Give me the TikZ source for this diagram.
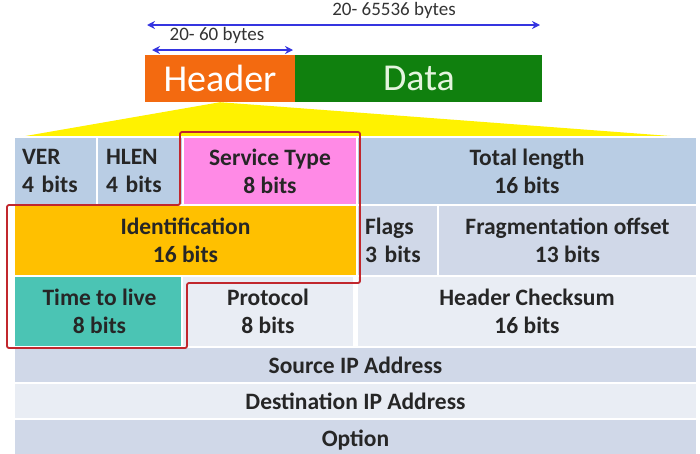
\documentclass[tikz,border=0pt]{standalone}
\usepackage{fontspec}
\setmainfont{Carlito}
\usepackage{xcolor}
\usepackage{tikz}
\usetikzlibrary{positioning,calc,arrows.meta}
\definecolor{hdrOrange}{HTML}{F36A10}
\definecolor{dataGreen}{HTML}{10800E}
\definecolor{dataText}{HTML}{E4F4DE}
\definecolor{lenBlue}{HTML}{3535E0}
\definecolor{rowTop}{HTML}{B9CDE4}
\definecolor{rowDark}{HTML}{D0D8E8}
\definecolor{rowLight}{HTML}{E9EDF4}
\definecolor{servPink}{HTML}{FF8AE6}
\definecolor{identGold}{HTML}{FFC000}
\definecolor{ttlTeal}{HTML}{4BC4B4}
\definecolor{markRed}{HTML}{C1272D}

\begin{document}
\begin{tikzpicture}[
  x=1pt, y=-1pt,
  font=\bfseries\fontsize{23.5}{28}\selectfont,
  cell/.style={draw=white, line width=2pt, inner sep=0pt, align=center, text=black!85},
  lcell/.style={cell, align=left, text width=#1},
  block/.style={inner sep=0pt, minimum height=47pt, font=\fontsize{38}{42}\selectfont},
  lenarrow/.style={{Stealth[length=8pt,width=8pt]}-{Stealth[length=8pt,width=8pt]}, line width=1.6pt, lenBlue},
  lenlabel/.style={font=\fontsize{19}{22}\selectfont, text=black!80},
]
\useasboundingbox (0,0) rectangle (700,453);

% Header / Data bar
\node[block, fill=hdrOrange, text=white, minimum width=150pt] (hdr) at (220,78.5) {Header};
\node[block, fill=dataGreen, text=dataText, minimum width=247pt, right=0pt of hdr] (data) {Data};

% length arrows
\coordinate (totL) at (147,25);
\coordinate (totR) at (540,25);
\coordinate (hdrL) at (152,50);
\coordinate (hdrR) at (293,50);
\draw[lenarrow] (totL) -- (totR);
\draw[lenarrow] (hdrL) -- (hdrR);
\node[lenlabel] (totlab) at (394,10) {20- 65536 bytes};
\node[lenlabel] (hdrlab) at (217,35) {20- 60 bytes};

% zoom wedge
\fill[yellow] (hdr.south) -- (14,138) -- (697,138) -- cycle;

% Row 1
\node[lcell={67pt}, fill=rowTop, minimum width=83pt, minimum height=68pt] (ver) at (55.5,171) {VER\\4 bits};
\node[lcell={68pt}, fill=rowTop, minimum width=86pt, minimum height=68pt] (hlen) at (140,171) {HLEN\\4 bits};
\node[cell, fill=servPink, minimum width=174pt, minimum height=68pt] (serv) at (270,171) {Service Type\\8 bits};
\node[cell, fill=rowTop, minimum width=340pt, minimum height=68pt] (total) at (527,171) {Total length\\16 bits};

% Row 2
\node[cell, fill=identGold, minimum width=343pt, minimum height=71pt] (ident) at (185.5,240.5) {Identification\\16 bits};
\node[lcell={65pt}, fill=rowDark, minimum width=81pt, minimum height=71pt] (flags) at (397.5,240.5) {Flags\\3 bits};
\node[cell, fill=rowDark, minimum width=259pt, minimum height=71pt] (frag) at (567.5,240.5) {Fragmentation offset\\13 bits};

% Row 3
\node[cell, fill=ttlTeal, minimum width=171pt, minimum height=71pt] (ttl) at (99.5,311.5) {Time to live\\8 bits};
\node[cell, fill=rowLight, minimum width=172pt, minimum height=71pt] (proto) at (268,311.5) {Protocol\\8 bits};
\node[cell, fill=rowLight, minimum width=340pt, minimum height=71pt] (chk) at (527,311.5) {Header Checksum\\16 bits};

% Rows 4-6
\node[cell, fill=rowDark, minimum width=683pt, minimum height=36pt] (src) at (355.5,365) {Source IP Address};
\node[cell, fill=rowLight, minimum width=683pt, minimum height=36pt] (dst) at (355.5,401) {Destination IP Address};
\node[cell, fill=rowDark, minimum width=683pt, minimum height=42pt] (opt) at (355.5,440) {Option};

% red outline round the marked fields
\draw[markRed, line width=1.8pt, rounded corners=2pt]
  (180,132) -- (360,132) -- (360,283) -- (187,283) -- (187,348)
  -- (7,348) -- (7,205) -- (180,205) -- cycle;

\end{tikzpicture}
\end{document}
